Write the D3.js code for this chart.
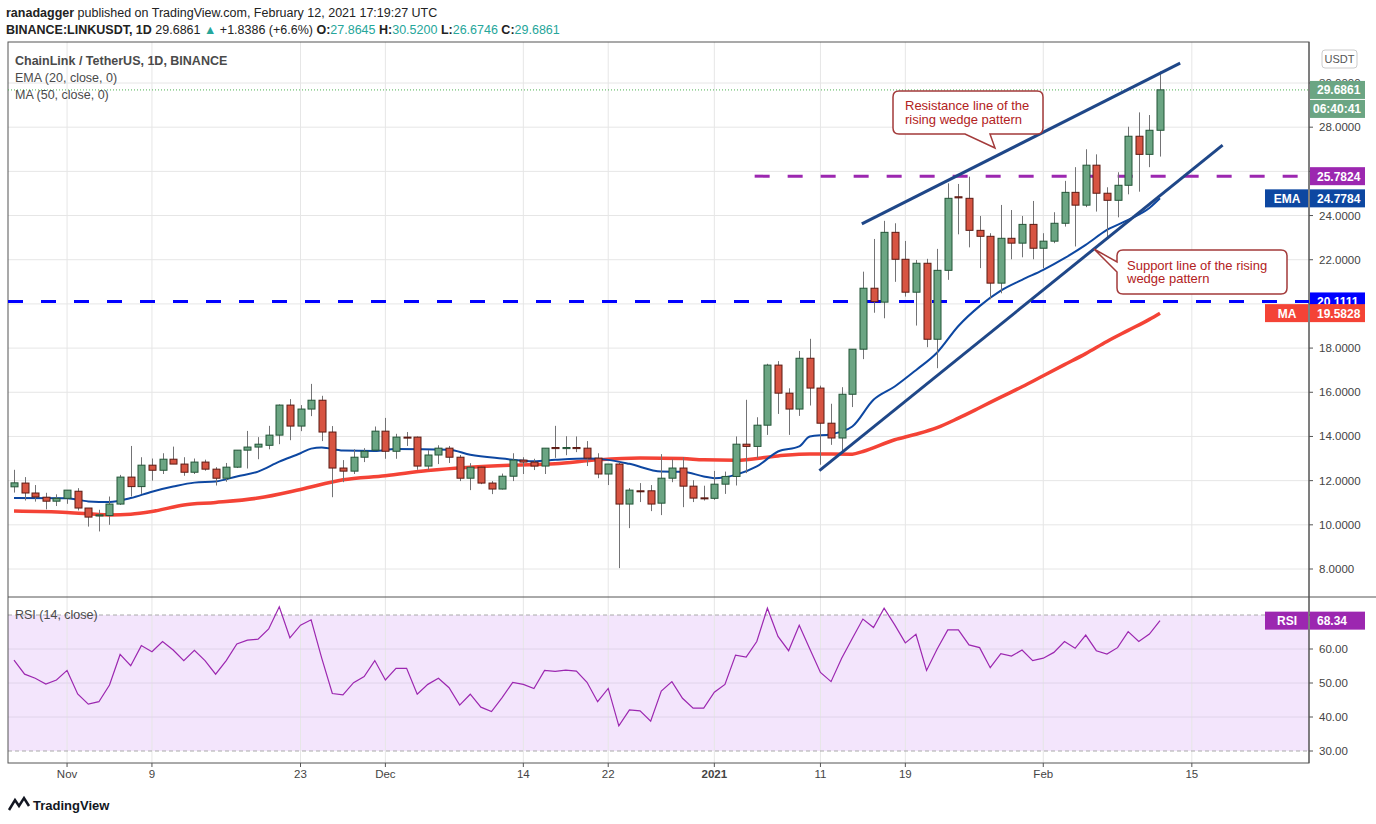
<!DOCTYPE html>
<html>
<head>
<meta charset="utf-8">
<script src="https://cdn.jsdelivr.net/npm/d3@7"></script>
<style>
body{margin:0;background:#fff;}
svg{font-family:"Liberation Sans","DejaVu Sans",sans-serif;}
</style>
</head>
<body>
<svg id="chart" width="1376" height="824"></svg>
<script>

// ---- data (daily candles, Oct 27 2020 .. Feb 12 2021)
var opens  = [11.72,11.89,11.44,11.25,11.07,11.20,11.52,10.76,10.40,10.42,10.94,12.16,11.73,12.70,12.47,12.97,12.75,12.38,12.84,12.52,12.11,12.61,13.38,13.52,13.60,14.06,15.42,14.47,15.24,15.64,14.20,12.57,12.43,13.06,13.38,14.24,13.33,13.97,13.97,12.66,13.16,13.47,13.06,12.11,12.61,11.89,11.62,12.20,12.93,12.84,12.66,13.50,13.45,13.50,13.47,13.02,12.30,12.75,10.94,11.54,11.54,10.98,12.11,12.57,11.75,11.22,11.20,11.84,12.19,13.65,13.55,14.51,17.23,15.96,15.24,17.54,16.19,14.60,13.93,15.91,17.95,20.71,20.08,23.24,22.02,20.53,21.84,18.40,21.52,24.85,24.78,23.33,23.06,20.94,22.97,22.75,23.60,22.52,22.84,23.65,25.05,24.47,26.28,25.01,24.69,25.37,27.59,26.77,27.86];
var highs  = [12.49,12.16,11.80,11.45,11.38,11.57,11.66,10.76,10.68,11.28,12.26,13.57,13.06,13.00,13.24,13.54,13.06,13.00,12.95,12.61,12.80,13.38,14.25,13.97,14.48,15.45,15.69,15.42,16.38,15.84,14.47,12.93,13.42,13.47,14.45,14.84,14.12,14.20,14.00,13.38,13.60,13.57,13.16,12.79,12.65,11.98,12.32,13.24,13.06,12.99,13.47,14.48,14.01,14.00,13.79,13.24,12.75,12.84,11.66,11.89,11.80,13.20,12.97,13.06,12.02,11.77,12.44,12.41,14.00,15.66,14.87,17.29,17.41,16.18,17.87,18.42,16.30,15.48,16.23,17.95,21.46,22.94,23.76,23.65,22.85,21.99,22.04,22.49,25.46,25.43,25.76,23.98,23.20,24.48,24.25,23.98,24.66,23.20,24.15,25.57,26.19,27.00,26.77,25.28,25.96,28.02,28.67,28.55,30.52];
var lows   = [11.46,11.10,11.05,10.70,10.85,10.95,10.65,9.92,9.70,10.00,10.90,11.28,11.40,12.00,12.30,12.75,12.22,12.30,12.45,11.78,11.95,12.57,12.55,12.97,13.42,13.65,13.83,14.24,14.92,13.79,11.25,11.93,12.30,12.84,13.38,12.99,12.99,13.57,12.49,12.49,12.75,12.80,11.98,11.57,11.84,11.39,11.60,11.98,12.30,12.48,12.30,13.03,13.15,13.29,12.66,12.11,11.80,8.04,9.85,11.03,10.62,10.44,11.93,10.80,11.03,11.10,11.13,11.40,11.78,12.34,13.02,14.07,15.02,14.07,14.93,15.40,12.72,13.62,13.32,15.33,17.50,19.60,19.35,21.00,20.33,19.02,18.04,17.09,21.09,23.15,22.56,21.62,20.21,20.48,22.02,22.11,22.02,21.62,22.75,23.50,22.60,24.38,24.18,22.97,23.92,24.96,25.08,26.19,26.67];
var closes = [11.90,11.44,11.26,11.07,11.20,11.57,10.76,10.35,10.45,10.94,12.16,11.73,12.70,12.47,12.97,12.75,12.38,12.84,12.52,12.11,12.61,13.38,13.52,13.65,14.06,15.42,14.47,15.24,15.64,14.20,12.57,12.43,13.06,13.33,14.24,13.33,13.97,13.95,12.66,13.16,13.47,13.06,12.11,12.61,11.89,11.62,12.20,12.93,12.84,12.66,13.47,13.45,13.50,13.45,13.02,12.30,12.75,10.94,11.57,11.50,10.94,12.11,12.57,11.75,11.21,11.20,11.84,12.19,13.65,13.55,14.51,17.23,15.96,15.24,17.54,16.19,14.60,13.93,15.91,17.95,20.71,20.10,23.24,22.02,20.53,21.84,18.40,21.52,24.78,24.80,23.33,23.06,20.94,22.97,22.75,23.60,22.52,22.84,23.65,25.05,24.47,26.28,25.01,24.69,25.37,27.59,26.77,27.86,29.69];

var rsi = [56.7,52.6,51.4,49.7,50.9,53.7,46.8,43.8,44.5,49.4,58.4,55.1,61.0,59.2,62.2,59.7,56.6,59.6,56.6,52.6,56.6,61.5,62.6,62.9,65.9,72.4,63.3,67.0,68.6,57.3,46.9,46.5,50.1,51.9,56.6,50.9,54.3,54.3,46.7,49.6,51.4,48.6,43.5,46.7,42.9,41.6,45.7,50.2,49.6,48.4,53.7,53.4,53.8,53.5,50.2,44.5,48.4,37.4,42.1,41.8,38.8,47.6,50.4,45.5,42.6,42.6,47.3,49.6,58.2,57.6,62.2,72.0,63.7,59.5,67.0,60.0,53.1,50.4,57.3,63.1,68.8,66.3,72.0,67.1,61.8,64.3,53.7,60.0,65.6,65.6,61.2,60.4,54.5,58.6,57.9,59.7,56.6,57.3,59.0,62.2,60.2,64.1,59.5,58.5,60.4,65.1,62.2,64.4,68.34];

// indicator lines, sampled at day index
var emaDay = [0,5,7,9,11,13,15,17,19,21,23,25,27,28,29,31,34,36,41,43,46,49,51,54,56,58,61,63,65,66,68,70,72,74,75,77,79,81,83,85,87,89,91,93,95,97,99,101,103,105,107,108];
var emaVal = [11.21,11.2,11.06,11.03,11.21,11.5,11.73,11.91,11.96,12.19,12.41,12.86,13.24,13.45,13.5,13.36,13.34,13.43,13.4,13.17,13.0,12.88,12.94,13.0,12.94,12.76,12.41,12.4,12.19,12.11,12.26,12.64,13.32,13.55,14.0,14.1,14.45,15.66,16.26,17.0,17.8,19.0,19.9,20.6,21.09,21.54,22.07,22.67,23.35,23.8,24.34,24.78];
var maDay = [0,5,9,11,13,16,19,23,27,31,35,39,43,47,51,55,59,63,65,68,72,75,79,80,83,85,87,89,91,93,95,97,99,101,103,105,107,108];
var maVal = [10.62,10.56,10.45,10.48,10.6,10.9,11.01,11.21,11.6,12.04,12.22,12.46,12.61,12.7,12.76,12.94,13.03,13.0,12.94,12.92,13.12,13.21,13.2,13.32,13.85,14.1,14.4,14.83,15.3,15.78,16.25,16.75,17.25,17.75,18.3,18.8,19.3,19.58];

var priceTicks = [8,10,12,14,16,18,20,22,24,26,28,30];
var rsiTicks = [30,40,50,60,70];
var dateTicks = ["2020-11-01","2020-11-09","2020-11-23","2020-12-01","2020-12-14","2020-12-22","2021-01-01","2021-01-11","2021-01-19","2021-02-01","2021-02-15"];

var levelBlue = 20.1111, levelPurple = 25.7824;
var resistLine = [[79.9,23.62],[109.9,30.9]];
var supportLine = [[75.9,12.45],[113.9,27.19]];

// ---- layout
var svg = d3.select("#chart");
var L = 8, R = 1309, T = 42, B = 763, SPLIT = 597;
var start = new Date(Date.UTC(2020,9,27));
var day = 864e5;
var x = d3.scaleLinear().domain([0,108]).range([14,1160]);
var xd = function(s){ return x((new Date(s+"T00:00:00Z") - start)/day); };
var y = d3.scaleLinear().domain([8,30]).range([569,83]);
var yr = d3.scaleLinear().domain([30,70]).range([751,615]);

var colors = {
	up:"#6ba583", upLine:"#225437", dn:"#d75442", dnLine:"#5b1a13", wick:"#737375",
	grid:"#e6e6e6", ema:"#0d47a1", ma:"#f44336", blue:"#0000ff", purple:"#9c27b0",
	trend:"#1f4788", note:"#a33a3a", text:"#4a4a4a"
};

// header
var h1 = svg.append("text").attr("x",6).attr("y",17).style("font-size","12.5px").attr("fill","#222");
h1.append("tspan").attr("font-weight","bold").text("ranadagger");
h1.append("tspan").text(" published on TradingView.com, February 12, 2021 17:19:27 UTC");
var h2 = svg.append("text").attr("x",6).attr("y",34).style("font-size","12.5px").attr("fill","#222");
h2.append("tspan").attr("font-weight","bold").text("BINANCE:LINKUSDT, 1D ");
h2.append("tspan").text("29.6861 ");
h2.append("tspan").attr("fill","#26a69a").text("▲");
h2.append("tspan").text(" +1.8386 (+6.6%) ");
[["O:","27.8645"],["H:","30.5200"],["L:","26.6746"],["C:","29.6861"]].forEach(function(p){
	h2.append("tspan").attr("font-weight","bold").text(p[0]);
	h2.append("tspan").attr("fill","#26a69a").text(p[1]+" ");
});

// RSI band
svg.append("rect").attr("x",L).attr("y",yr(70)).attr("width",R-L).attr("height",yr(30)-yr(70)).attr("fill","#f3e5fc");

// grid
var g = svg.append("g");
dateTicks.forEach(function(d){
	g.append("line").attr("x1",xd(d)).attr("x2",xd(d)).attr("y1",T).attr("y2",B).attr("stroke",colors.grid);
});
priceTicks.forEach(function(v){
	g.append("line").attr("x1",L).attr("x2",R).attr("y1",y(v)).attr("y2",y(v)).attr("stroke",colors.grid);
});
rsiTicks.forEach(function(v){
	var dashed = (v==30||v==70);
	g.append("line").attr("x1",L).attr("x2",R).attr("y1",yr(v)).attr("y2",yr(v))
		.attr("stroke",dashed ? "#aaa" : "#e0d4ea").attr("stroke-dasharray",dashed ? "4,3" : null);
});

// frame
svg.append("rect").attr("x",L).attr("y",T).attr("width",R-L).attr("height",B-T).attr("fill","none").attr("stroke","#555");
svg.append("line").attr("x1",L).attr("x2",1376).attr("y1",SPLIT).attr("y2",SPLIT).attr("stroke","#555");
svg.append("line").attr("x1",R).attr("x2",R).attr("y1",T).attr("y2",B).attr("stroke","#555");

// horizontal levels
svg.append("line").attr("x1",L).attr("x2",R).attr("y1",y(levelBlue)).attr("y2",y(levelBlue))
	.attr("stroke",colors.blue).attr("stroke-width",3).attr("stroke-dasharray","15,18");
svg.append("line").attr("x1",x(69.8)).attr("x2",R).attr("y1",y(levelPurple)).attr("y2",y(levelPurple))
	.attr("stroke",colors.purple).attr("stroke-width",3).attr("stroke-dasharray","15,18");
// last price dotted
svg.append("line").attr("x1",L).attr("x2",R).attr("y1",y(29.6861)).attr("y2",y(29.6861))
	.attr("stroke","#4caf50").attr("stroke-dasharray","1,2");

// indicator lines
var line = d3.line().curve(d3.curveMonotoneX);
svg.append("path").attr("d",line(maDay.map(function(d,i){return [x(d),y(maVal[i])];})))
	.attr("fill","none").attr("stroke",colors.ma).attr("stroke-width",3.5);
svg.append("path").attr("d",line(emaDay.map(function(d,i){return [x(d),y(emaVal[i])];})))
	.attr("fill","none").attr("stroke",colors.ema).attr("stroke-width",2);

// candles
var c = svg.append("g").selectAll("g").data(closes).join("g");
c.append("line")
	.attr("x1",function(d,i){return Math.round(x(i))+0.5;}).attr("x2",function(d,i){return Math.round(x(i))+0.5;})
	.attr("y1",function(d,i){return y(highs[i]);}).attr("y2",function(d,i){return y(lows[i]);})
	.attr("stroke",colors.wick);
c.append("rect")
	.attr("x",function(d,i){return Math.round(x(i))-3;}).attr("width",7)
	.attr("y",function(d,i){return y(Math.max(opens[i],d));})
	.attr("height",function(d,i){return Math.max(1,Math.abs(y(opens[i])-y(d)));})
	.attr("fill",function(d,i){return d>=opens[i]?colors.up:colors.dn;})
	.attr("stroke",function(d,i){return d>=opens[i]?colors.upLine:colors.dnLine;});

// trend lines
[resistLine,supportLine].forEach(function(l){
	svg.append("line").attr("x1",x(l[0][0])).attr("y1",y(l[0][1])).attr("x2",x(l[1][0])).attr("y2",y(l[1][1]))
		.attr("stroke",colors.trend).attr("stroke-width",3);
});

// callouts
function callout(bx,by,bw,bh,tail,lines){
	var p = "M"+(bx+6)+","+by+" H"+(bx+bw-6)+" Q"+(bx+bw)+","+by+" "+(bx+bw)+","+(by+6)+
		" V"+(by+bh-6)+" Q"+(bx+bw)+","+(by+bh)+" "+(bx+bw-6)+","+(by+bh)+" "+tail+
		" H"+(bx+6)+" Q"+bx+","+(by+bh)+" "+bx+","+(by+bh-6)+" V"+(by+6)+" Q"+bx+","+by+" "+(bx+6)+","+by+"Z";
	svg.append("path").attr("d",p).attr("fill","#fff").attr("stroke",colors.note).attr("stroke-width",1.5);
	lines.forEach(function(t,i){
		svg.append("text").attr("x",bx+12).attr("y",by+19+i*14).style("font-size","13px")
			.attr("fill","#b22222").text(t);
	});
}
callout(893,91,150,43,"H990 L995,148 L965,134","Resistance line of the|rising wedge pattern".split("|"));
// support box with tail on the left side
(function(){
	var bx=1117,by=250,bw=170,bh=44;
	var p = "M"+(bx+6)+","+by+" H"+(bx+bw-6)+" Q"+(bx+bw)+","+by+" "+(bx+bw)+","+(by+6)+
		" V"+(by+bh-6)+" Q"+(bx+bw)+","+(by+bh)+" "+(bx+bw-6)+","+(by+bh)+
		" H"+(bx+6)+" Q"+bx+","+(by+bh)+" "+bx+","+(by+bh-6)+" V"+(by+22)+" L1094,249 L"+bx+","+(by+12)+
		" V"+(by+6)+" Q"+bx+","+by+" "+(bx+6)+","+by+"Z";
	svg.append("path").attr("d",p).attr("fill","#fff").attr("stroke",colors.note).attr("stroke-width",1.5);
	["Support line of the rising","wedge pattern"].forEach(function(t,i){
		svg.append("text").attr("x",bx+10).attr("y",by+20+i*13).style("font-size","13px").attr("fill","#b22222").text(t);
	});
})();

// RSI
svg.append("path").attr("d",d3.line()(rsi.map(function(v,i){return [x(i),yr(v)];})))
	.attr("fill","none").attr("stroke",colors.purple).attr("stroke-width",1.2);

// legends
var lg = [["ChainLink / TetherUS, 1D, BINANCE",65,true],["EMA (20, close, 0)",82,false],["MA (50, close, 0)",99,false]];
lg.forEach(function(l){
	svg.append("text").attr("x",15).attr("y",l[1]).style("font-size","12.5px").attr("fill",colors.text)
		.attr("font-weight",l[2]?"bold":null).text(l[0]);
});
svg.append("text").attr("x",15).attr("y",619).style("font-size","12.5px").attr("fill",colors.text).text("RSI (14, close)");

// right axis (labels hidden under price tags are skipped, as on the original)
var hiddenPrice = [20,26], hiddenRsi = [70];
priceTicks.forEach(function(v){
	svg.append("line").attr("x1",R).attr("x2",R+4).attr("y1",y(v)).attr("y2",y(v)).attr("stroke","#555");
	if (hiddenPrice.indexOf(v)<0)
		svg.append("text").attr("x",1319).attr("y",y(v)+4).style("font-size","11.5px").attr("fill","#444").text(d3.format(".4f")(v));
});
rsiTicks.forEach(function(v){
	svg.append("line").attr("x1",R).attr("x2",R+4).attr("y1",yr(v)).attr("y2",yr(v)).attr("stroke","#555");
	if (hiddenRsi.indexOf(v)<0)
		svg.append("text").attr("x",1319).attr("y",yr(v)+4).style("font-size","11.5px").attr("fill","#444").text(d3.format(".2f")(v));
});
svg.append("rect").attr("x",1322).attr("y",50).attr("width",35).attr("height",18).attr("rx",3).attr("fill","#fff").attr("stroke","#ccc");
svg.append("text").attr("x",1339.5).attr("y",63).attr("text-anchor","middle").style("font-size","11px").attr("fill","#555").text("USDT");

function tag(v,label,bg,sc,extra){
	var yy = sc(v);
	svg.append("rect").attr("x",R+1).attr("y",yy-9).attr("width",55).attr("height",18).attr("fill",bg);
	svg.append("text").attr("x",1317).attr("y",yy+4.5).style("font-size","12px").attr("font-weight","bold").attr("fill","#fff").text(label);
	if (extra){
		svg.append("rect").attr("x",R-44).attr("y",yy-9).attr("width",43).attr("height",18).attr("fill",bg);
		svg.append("text").attr("x",R-22).attr("y",yy+4.5).attr("text-anchor","middle").style("font-size","12px").attr("font-weight","bold").attr("fill","#fff").text(extra);
	}
}
tag(29.6861,"29.6861","#6ba583",y);
svg.append("rect").attr("x",R+1).attr("y",y(29.6861)+10).attr("width",55).attr("height",18).attr("fill","#6ba583");
svg.append("text").attr("x",1313).attr("y",y(29.6861)+23.5).style("font-size","12px").attr("font-weight","bold").attr("fill","#fff").text("06:40:41");
tag(levelPurple,"25.7824",colors.purple,y);
tag(24.7784,"24.7784",colors.ema,y,"EMA");
tag(levelBlue,"20.1111",colors.blue,y);
tag(19.5828,"19.5828",colors.ma,y,"MA");
tag(68.34,"68.34","#9c27b0",yr,"RSI");

// time axis
var fmt = function(s){
	var d = new Date(s+"T00:00:00Z");
	if (d.getUTCMonth()==0 && d.getUTCDate()==1) return "2021";
	if (d.getUTCDate()==1) return d3.utcFormat("%b")(d);
	return d3.utcFormat("%-d")(d);
};
dateTicks.forEach(function(d){
	svg.append("line").attr("x1",xd(d)).attr("x2",xd(d)).attr("y1",B).attr("y2",B+4).attr("stroke","#555");
	svg.append("text").attr("x",xd(d)).attr("y",778).attr("text-anchor","middle").style("font-size","11.5px")
		.attr("font-weight",fmt(d)=="2021"?"bold":null).attr("fill","#444").text(fmt(d));
});

// TradingView logo
svg.append("rect").attr("x",8).attr("y",797).attr("width",22).attr("height",15).attr("rx",3).attr("fill","#fff");
svg.append("path").attr("d","M9,810 L15,800 L19,806 L24,798 L29,806").attr("fill","none").attr("stroke","#131722").attr("stroke-width",2.5);
svg.append("text").attr("x",33).attr("y",810).style("font-size","13px").attr("font-weight","bold").attr("fill","#131722").text("TradingView");

</script>
</body>
</html>
